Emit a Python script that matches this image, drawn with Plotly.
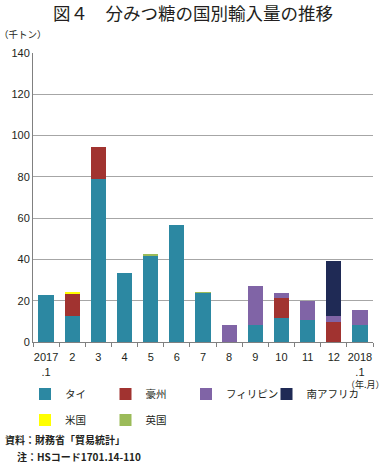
import plotly.graph_objects as go

categories = ["2017<br>.1", "2", "3", "4", "5", "6", "7", "8", "9", "10", "11", "12", "2018<br>.1"]
thai = [22.6, 12.6, 79.0, 33.6, 42.1, 56.7, 23.8, 0, 8.2, 11.5, 10.8, 0, 8.2]
australia = [0, 11.0, 15.3, 0, 0, 0, 0, 0, 0, 9.8, 0, 9.7, 0]
philippines = [0, 0, 0, 0, 0, 0, 0, 8.1, 18.9, 2.3, 9.1, 2.9, 7.5]
south_africa = [0, 0, 0, 0, 0, 0, 0, 0, 0, 0, 0, 26.5, 0]
usa = [0, 0.3, 0, 0, 0, 0, 0, 0, 0, 0, 0, 0, 0]
uk = [0, 0, 0, 0, 0.3, 0, 0.4, 0, 0, 0, 0, 0, 0]

series = [
    ("タイ", thai, "#2C88A2", "legend"),
    ("豪州", australia, "#A13330", "legend"),
    ("フィリピン", philippines, "#8064A6", "legend"),
    ("南アフリカ", south_africa, "#1F2A55", "legend"),
    ("米国", usa, "#FFFF00", "legend2"),
    ("英国", uk, "#9BBB59", "legend2"),
]

FONT = "Liberation Sans, Noto Sans CJK JP, sans-serif"
JP = "Noto Sans CJK JP, sans-serif"

W, H = 386, 463
ML, MR, MT, MB = 33, 13, 53, 121
PW, PH = W - ML - MR, H - MT - MB


def px(x):
    return (x - ML) / PW


def py(y):
    return (H - MB - y) / PH


fig = go.Figure()
for name, vals, color, lg in series:
    fig.add_trace(go.Bar(x=categories, y=vals, name=name, marker_color=color,
                         marker_line_width=0, legend=lg,
                         legendwidth=70 if name == "南アフリカ" else None))

legend_common = dict(orientation="h", xref="paper", yref="paper",
                     xanchor="left", yanchor="middle", itemwidth=30,
                     entrywidth=35.5, entrywidthmode="pixels",
                     font=dict(family=JP, size=10.5, color="#231F20"),
                     bgcolor="rgba(0,0,0,0)", traceorder="normal",
                     itemclick=False, itemdoubleclick=False)

def ann(text, x, y, xanchor, size, bold=False):
    return dict(text=text, xref="paper", yref="paper", x=px(x), y=py(y),
                xanchor=xanchor, yanchor="middle", showarrow=False,
                font=dict(family=JP, size=size, color="#231F20",
                          weight="bold" if bold else "normal"))

fig.update_layout(
    width=W, height=H,
    margin=dict(l=ML, r=MR, t=MT, b=MB),
    paper_bgcolor="white", plot_bgcolor="white",
    barmode="stack", bargap=0.42,
    font=dict(family=FONT, size=11, color="#231F20"),
    showlegend=True,
    legend=dict(x=px(25), y=py(394), **legend_common),
    legend2=dict(x=px(25), y=py(420), **legend_common),
    xaxis=dict(type="category", showline=True, linecolor="#808080", linewidth=1,
               ticks="outside", tickson="boundaries", ticklen=4, tickcolor="#808080",
               tickangle=0, automargin=False, ticklabelstandoff=5,
               tickfont=dict(family=FONT, size=11), showgrid=False),
    yaxis=dict(range=[0, 140], dtick=20, showline=True, linecolor="#808080", linewidth=1,
               showgrid=True, gridcolor="#A6A6A6", gridwidth=1.3, ticks="",
               automargin=False,
               tickfont=dict(family=FONT, size=11), zeroline=False),
    annotations=[
        ann("図４　分みつ糖の国別輸入量の推移", 193, 12, "center", 17.5),
        ann("（千トン）", -3, 34, "left", 9.5),
        ann("（年.月）", 387, 384, "right", 9),
        ann("資料：財務省「貿易統計」", 3, 440, "left", 10, True),
        ann("注：HSコード1701.14-110", 15, 456, "left", 10, True),
    ],
)

fig.write_html("out.html", config={"displayModeBar": False},
               post_script="document.body.style.margin='0';")
